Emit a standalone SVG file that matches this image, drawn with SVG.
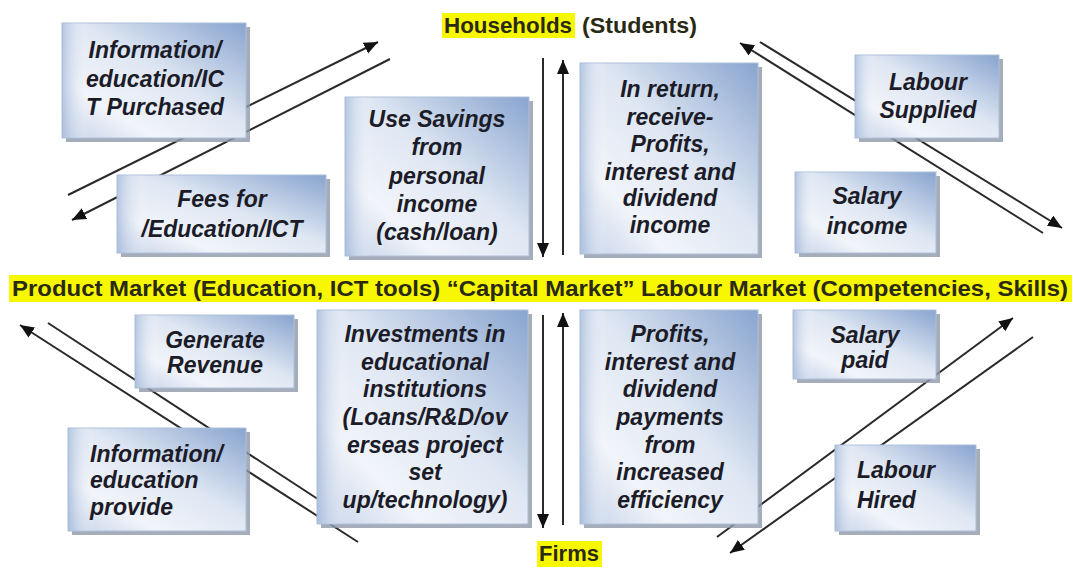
<svg xmlns="http://www.w3.org/2000/svg" width="1080" height="568" viewBox="0 0 1080 568">
<defs>
<linearGradient id="gb" x1="1" y1="0" x2="0" y2="1">
<stop offset="0" stop-color="#88a4cf"/>
<stop offset="0.45" stop-color="#dfe7f3"/>
<stop offset="0.75" stop-color="#f1f4fa"/>
<stop offset="1" stop-color="#c4d2e8"/>
</linearGradient>
<linearGradient id="gl" x1="0" y1="0" x2="1" y2="0">
<stop offset="0" stop-color="#9fb5d8" stop-opacity="0.7"/>
<stop offset="0.15" stop-color="#ffffff" stop-opacity="0"/>
<stop offset="1" stop-color="#ffffff" stop-opacity="0"/>
</linearGradient>
<marker id="ah" markerUnits="userSpaceOnUse" markerWidth="16" markerHeight="14" refX="14" refY="6" orient="auto">
<path d="M0,0 L14,6 L0,12 z" fill="#111"/>
</marker>
<style>
.sh{fill:#8e99aa;opacity:0.8}
.bx{fill:url(#gb);stroke:#aebfd9;stroke-width:1}
.ov{fill:url(#gl)}
.t{font-family:"Liberation Sans",Arial,sans-serif;font-weight:bold;font-style:italic;font-size:23px;fill:#1c1c28;text-anchor:middle}
.tl{text-anchor:start}
.h{font-family:"Liberation Sans",Arial,sans-serif;font-weight:bold;font-size:22px;fill:#2a2a14}
.hl{fill:#f7f700}
.c{stroke:#2a2a2a;stroke-width:2;fill:none}
</style>
</defs>
<rect width="1080" height="568" fill="#ffffff"/>

<g id="connectors">
<line class="c" x1="68" y1="195" x2="378" y2="42" marker-end="url(#ah)"/>
<line class="c" x1="390" y1="59" x2="72" y2="220" marker-end="url(#ah)"/>
<line class="c" x1="543" y1="58" x2="543" y2="257" marker-end="url(#ah)"/>
<line class="c" x1="563" y1="255" x2="563" y2="60" marker-end="url(#ah)"/>
<line class="c" x1="1043" y1="233" x2="740" y2="43" marker-end="url(#ah)"/>
<line class="c" x1="760" y1="42" x2="1062" y2="228" marker-end="url(#ah)"/>
<line class="c" x1="358" y1="542" x2="20" y2="325" marker-end="url(#ah)"/>
<line class="c" x1="48" y1="323" x2="330" y2="507"/>
<line class="c" x1="543" y1="315" x2="543" y2="528" marker-end="url(#ah)"/>
<line class="c" x1="563" y1="525" x2="563" y2="313" marker-end="url(#ah)"/>
<line class="c" x1="717" y1="537" x2="1013" y2="318" marker-end="url(#ah)"/>
<line class="c" x1="1033" y1="337" x2="730" y2="553" marker-end="url(#ah)"/>
</g>

<g id="households">
<rect class="hl" x="442" y="13" width="133" height="25"/>
<text class="h" x="444" y="33" textLength="128" lengthAdjust="spacingAndGlyphs">Households</text>
<text class="h" x="582" y="33" textLength="115" lengthAdjust="spacingAndGlyphs" fill="#333">(Students)</text>
</g>

<g id="markets">
<rect class="hl" x="9" y="275" width="1063" height="27"/>
<text class="h" x="12" y="296" textLength="1056" lengthAdjust="spacingAndGlyphs">Product Market (Education, ICT tools) “Capital Market” Labour Market (Competencies, Skills)</text>
</g>

<g id="firms">
<rect class="hl" x="537" y="541" width="65" height="26"/>
<text class="h" x="569" y="561" text-anchor="middle">Firms</text>
</g>

<g id="info-purchased">
<rect class="sh" x="66" y="27" width="184" height="115"/>
<rect class="bx" x="62" y="23" width="184" height="115"/><rect class="ov" x="62" y="23" width="184" height="115"/>
<text class="t" x="155" y="58">Information/</text>
<text class="t" x="155" y="87">education/IC</text>
<text class="t" x="155" y="115">T Purchased</text>
</g>

<g id="fees">
<rect class="sh" x="121" y="179" width="209" height="78"/>
<rect class="bx" x="117" y="175" width="209" height="78"/><rect class="ov" x="117" y="175" width="209" height="78"/>
<text class="t" x="222" y="207">Fees for</text>
<text class="t" x="222" y="237">/Education/ICT</text>
</g>

<g id="savings">
<rect class="sh" x="349" y="101" width="184" height="159"/>
<rect class="bx" x="345" y="97" width="184" height="159"/><rect class="ov" x="345" y="97" width="184" height="159"/>
<text class="t" x="437" y="127">Use Savings</text>
<text class="t" x="437" y="155">from</text>
<text class="t" x="437" y="184">personal</text>
<text class="t" x="437" y="212">income</text>
<text class="t" x="437" y="240">(cash/loan)</text>
</g>

<g id="in-return">
<rect class="sh" x="584" y="67" width="178" height="191"/>
<rect class="bx" x="580" y="63" width="178" height="191"/><rect class="ov" x="580" y="63" width="178" height="191"/>
<text class="t" x="670" y="97">In return,</text>
<text class="t" x="670" y="125">receive-</text>
<text class="t" x="670" y="152">Profits,</text>
<text class="t" x="670" y="180">interest and</text>
<text class="t" x="670" y="206">dividend</text>
<text class="t" x="670" y="233">income</text>
</g>

<g id="labour-supplied">
<rect class="sh" x="859" y="59" width="144" height="83"/>
<rect class="bx" x="855" y="55" width="144" height="83"/><rect class="ov" x="855" y="55" width="144" height="83"/>
<text class="t" x="928" y="90">Labour</text>
<text class="t" x="928" y="118">Supplied</text>
</g>

<g id="salary-income">
<rect class="sh" x="799" y="176" width="141" height="81"/>
<rect class="bx" x="795" y="172" width="141" height="81"/><rect class="ov" x="795" y="172" width="141" height="81"/>
<text class="t" x="867" y="204">Salary</text>
<text class="t" x="867" y="234">income</text>
</g>

<g id="generate-revenue">
<rect class="sh" x="139" y="319" width="159" height="73"/>
<rect class="bx" x="135" y="315" width="159" height="73"/><rect class="ov" x="135" y="315" width="159" height="73"/>
<text class="t" x="215" y="348">Generate</text>
<text class="t" x="215" y="373">Revenue</text>
</g>

<g id="info-provide">
<rect class="sh" x="72" y="432" width="178" height="103"/>
<rect class="bx" x="68" y="428" width="178" height="103"/><rect class="ov" x="68" y="428" width="178" height="103"/>
<text class="t tl" x="90" y="462">Information/</text>
<text class="t tl" x="90" y="488">education</text>
<text class="t tl" x="90" y="515">provide</text>
</g>

<g id="investments">
<rect class="sh" x="321" y="314" width="211" height="214"/>
<rect class="bx" x="317" y="310" width="211" height="214"/><rect class="ov" x="317" y="310" width="211" height="214"/>
<text class="t" x="425" y="342">Investments in</text>
<text class="t" x="425" y="370">educational</text>
<text class="t" x="425" y="397">institutions</text>
<text class="t" x="425" y="425">(Loans/R&amp;D/ov</text>
<text class="t" x="425" y="453">erseas project</text>
<text class="t" x="425" y="480">set</text>
<text class="t" x="425" y="508">up/technology)</text>
</g>

<g id="profits">
<rect class="sh" x="584" y="314" width="178" height="214"/>
<rect class="bx" x="580" y="310" width="178" height="214"/><rect class="ov" x="580" y="310" width="178" height="214"/>
<text class="t" x="670" y="342">Profits,</text>
<text class="t" x="670" y="370">interest and</text>
<text class="t" x="670" y="397">dividend</text>
<text class="t" x="670" y="425">payments</text>
<text class="t" x="670" y="453">from</text>
<text class="t" x="670" y="480">increased</text>
<text class="t" x="670" y="508">efficiency</text>
</g>

<g id="salary-paid">
<rect class="sh" x="797" y="314" width="143" height="69"/>
<rect class="bx" x="793" y="310" width="143" height="69"/><rect class="ov" x="793" y="310" width="143" height="69"/>
<text class="t" x="865" y="343">Salary</text>
<text class="t" x="865" y="368">paid</text>
</g>

<g id="labour-hired">
<rect class="sh" x="839" y="449" width="141" height="86"/>
<rect class="bx" x="835" y="445" width="141" height="86"/><rect class="ov" x="835" y="445" width="141" height="86"/>
<text class="t tl" x="857" y="478">Labour</text>
<text class="t tl" x="857" y="508">Hired</text>
</g>
</svg>
